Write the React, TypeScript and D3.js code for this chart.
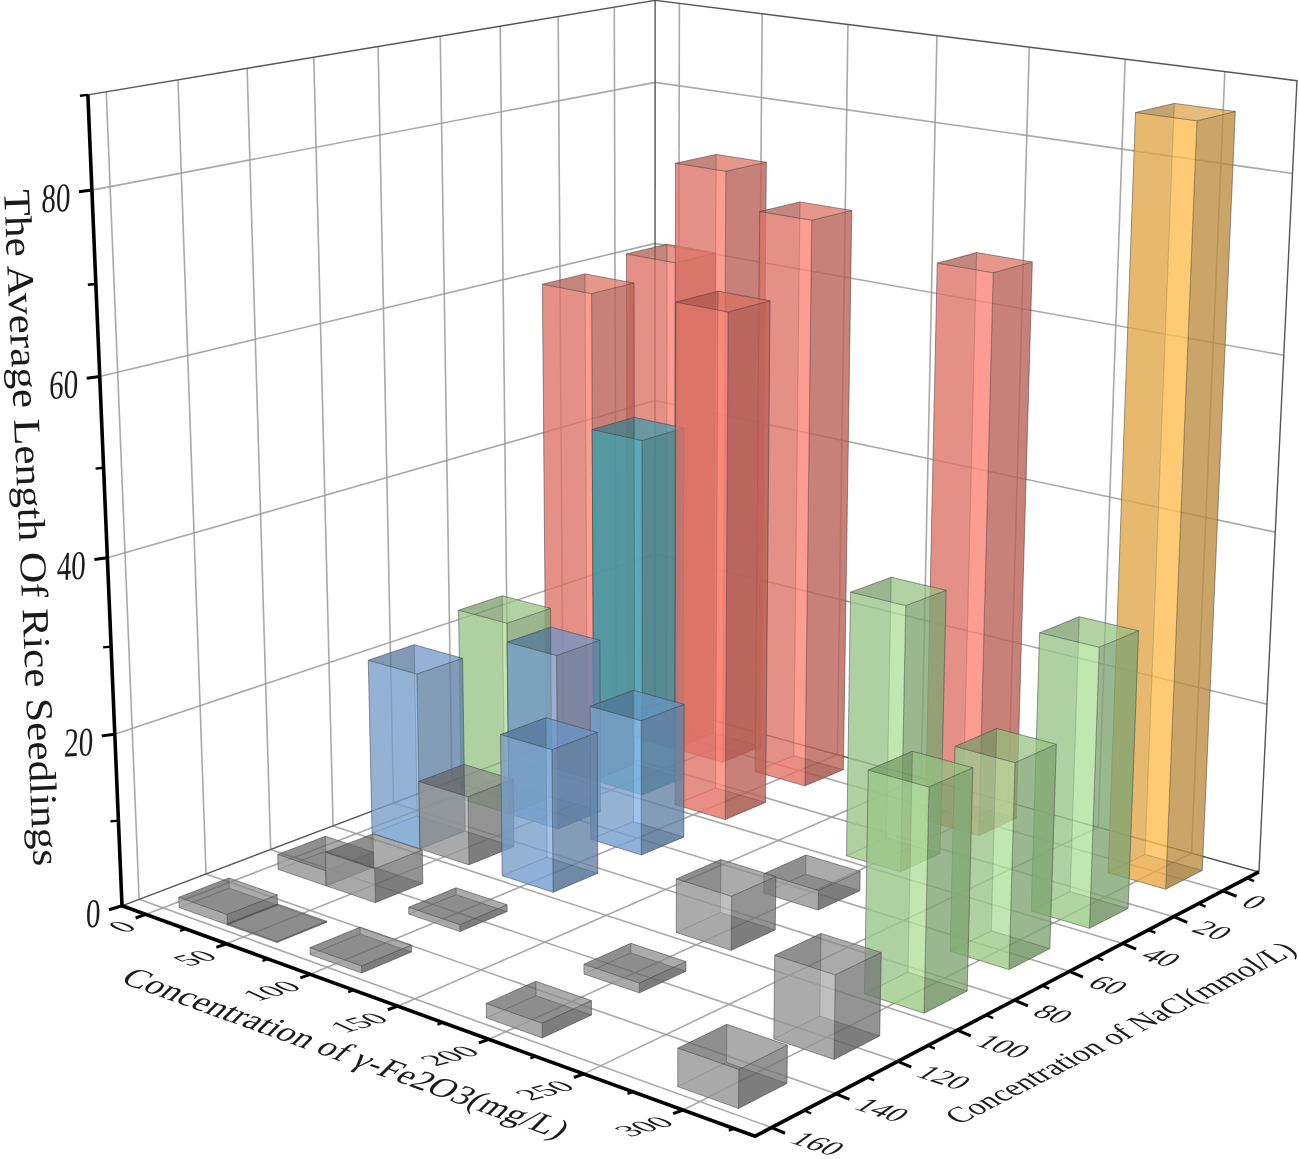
import React from "react";
import * as d3 from "d3";

const xDomain = [-15, 335];
const yDomain = [-15, 165];
const zDomain = [0, 90];

const xLevels = [20, 50, 100, 200, 300];
const yLevels = [0, 30, 60, 90, 120, 150];
const valuesAt20 = [61.2, 60, 23.5, 21.1, 1.8, 1.2];
const valuesAt50 = [73.2, 43.7, 21.2, 8.2, 4, 0.12];
const valuesAt100 = [69.1, 60.9, 16.2, 16.8, 0.8, 0.8];
const valuesAt200 = [66.6, 31.5, 2.3, 6.2, 1.1, 1.6];
const valuesAt300 = [86.6, 32.1, 23.2, 24.7, 9.1, 4.1];
const rows = [valuesAt20, valuesAt50, valuesAt100, valuesAt200, valuesAt300];

const xBarWidth = 30;
const yBarWidth = 15;

const xMajor = [0, 50, 100, 150, 200, 250, 300];
const xMinor = [25, 75, 125, 175, 225, 275, 325];
const yMajor = [0, 20, 40, 60, 80, 100, 120, 140, 160];
const yMinor = [-10, 10, 30, 50, 70, 90, 110, 130, 150];
const zMajor = [0, 20, 40, 60, 80];
const zMinor = [10, 30, 50, 70, 90];

const xTitle = "Concentration of \u03b3-Fe2O3(mg/L)";
const yTitle = "Concentration of NaCl(mmol/L)";
const zTitle = "The Average Length Of Rice Seedlings";

// colour bands: light face colour per value band
const bandBreaks = [10, 21.6, 35, 50, 80];
const bandLight = ["#aeaeae", "#88b5e5", "#b0e09c", "#3cb0c0", "#fc8377", "#febe50"];
const bandDark = ["#5f5f5f", "#526d89", "#6a8a5e", "#2f7480", "#9b5248", "#a0763e"];
const bandTop = ["#6a6a6a", "#4f7aa8", "#7ea56a", "#3b8a98", "#bc5b4d", "#c08a3c"];
const bandIndex = d3.scaleThreshold<number, number>().domain(bandBreaks).range([0, 1, 2, 3, 4, 5]);

const W = 1299;
const H = 1159;

const u = d3.scaleLinear().domain(xDomain).range([0, 1]);
const v = d3.scaleLinear().domain(yDomain).range([1, 0]);
const n = d3.scaleLinear().domain(zDomain).range([0, 1]);

// camera fit from the cube's visible corners: [u, v, n, screenX, screenY]
const cameraFit = [
  [0, 0, 0, 122, 905],
  [1, 0, 0, 755, 1137],
  [1, 1, 0, 1259, 871],
  [0, 1, 0, 655, 705],
  [0, 0, 1, 88, 95],
  [0, 1, 1, 655, 0],
  [1, 1, 1, 1297, 81],
];

function solve(A: number[][], b: number[]) {
  const m = A.map((r, i) => [...r, b[i]]);
  const N = b.length;
  for (let i = 0; i < N; i++) {
    let p = i;
    for (let k = i + 1; k < N; k++) if (Math.abs(m[k][i]) > Math.abs(m[p][i])) p = k;
    [m[i], m[p]] = [m[p], m[i]];
    for (let k = i + 1; k < N; k++) {
      const f = m[k][i] / m[i][i];
      for (let j = i; j <= N; j++) m[k][j] -= f * m[i][j];
    }
  }
  const out = new Array(N).fill(0);
  for (let i = N - 1; i >= 0; i--) {
    let s = m[i][N];
    for (let j = i + 1; j < N; j++) s -= m[i][j] * out[j];
    out[i] = s / m[i][i];
  }
  return out;
}

function fitCamera() {
  const rowsA: number[][] = [];
  const rhs: number[] = [];
  for (const [a, b, c, sx0, sy0] of cameraFit) {
    const sx = sx0 / 1000;
    const sy = sy0 / 1000;
    rowsA.push([a, b, c, 1, 0, 0, 0, 0, -sx * a, -sx * b, -sx * c]);
    rhs.push(sx);
    rowsA.push([0, 0, 0, 0, a, b, c, 1, -sy * a, -sy * b, -sy * c]);
    rhs.push(sy);
  }
  const K = 11;
  const ata = d3.range(K).map((i) => d3.range(K).map((j) => d3.sum(rowsA, (r) => r[i] * r[j])));
  const atb = d3.range(K).map((i) => d3.sum(rowsA, (r, k) => r[i] * rhs[k]));
  return solve(ata, atb);
}
const P = fitCamera();

function depth(x: number, y: number, z: number) {
  return P[8] * u(x) + P[9] * v(y) + P[10] * n(z) + 1;
}
function proj(x: number, y: number, z: number): [number, number] {
  const a = u(x), b = v(y), c = n(z);
  const w = P[8] * a + P[9] * b + P[10] * c + 1;
  return [
    (1000 * (P[0] * a + P[1] * b + P[2] * c + P[3])) / w,
    (1000 * (P[4] * a + P[5] * b + P[6] * c + P[7])) / w,
  ];
}
const line = d3.line();
const closed = (pts: [number, number][]) => line(pts) + "Z";

const [x0, x1] = xDomain;
const [y0, y1] = yDomain;
const [z0, z1] = zDomain;

type Bar = { x: number; y: number; z: number; band: number; w: number };
const bars: Bar[] = [];
xLevels.forEach((x, i) =>
  yLevels.forEach((y, j) => {
    const z = rows[i][j];
    bars.push({ x, y, z, band: bandIndex(z), w: depth(x, y, 0) });
  })
);
bars.sort((a, b) => b.w - a.w);

const FACE_ALPHA = 0.55;

function BarBox({ b }: { b: Bar }) {
  const xa = b.x - xBarWidth / 2, xb = b.x + xBarWidth / 2;
  const ya = b.y - yBarWidth / 2, yb = b.y + yBarWidth / 2;
  const L = bandLight[b.band], D = bandDark[b.band], T = bandTop[b.band];
  const quad = (pts: [number, number, number][]) => closed(pts.map((p) => proj(p[0], p[1], p[2])));
  const bottom = quad([[xa, ya, 0], [xb, ya, 0], [xb, yb, 0], [xa, yb, 0]]);
  const xMinFace = quad([[xa, ya, 0], [xa, yb, 0], [xa, yb, b.z], [xa, ya, b.z]]);
  const yMinFace = quad([[xa, ya, 0], [xb, ya, 0], [xb, ya, b.z], [xa, ya, b.z]]);
  const xMaxFace = quad([[xb, ya, 0], [xb, yb, 0], [xb, yb, b.z], [xb, ya, b.z]]);
  const yMaxFace = quad([[xa, yb, 0], [xb, yb, 0], [xb, yb, b.z], [xa, yb, b.z]]);
  const top = quad([[xa, ya, b.z], [xb, ya, b.z], [xb, yb, b.z], [xa, yb, b.z]]);
  const stroke = { stroke: "#3c3c3c", strokeOpacity: 0.3, strokeWidth: 1, strokeLinejoin: "round" as const };
  return (
    <g>
      <path d={bottom} fill={T} fillOpacity={0.62} {...stroke} />
      <path d={xMinFace} fill={D} fillOpacity={FACE_ALPHA} {...stroke} />
      <path d={yMinFace} fill={L} fillOpacity={FACE_ALPHA} {...stroke} />
      <path d={xMaxFace} fill={D} fillOpacity={FACE_ALPHA} {...stroke} />
      <path d={yMaxFace} fill={L} fillOpacity={FACE_ALPHA} {...stroke} />
      <path d={top} fill={T} fillOpacity={0.38} {...stroke} />
    </g>
  );
}

const seg = (a: [number, number], b: [number, number]) => line([a, b]) as string;
const off = (p: [number, number], dx: number, dy: number): [number, number] => [p[0] + dx, p[1] + dy];

const serif = "'Liberation Serif','Times New Roman',serif";

export default function App() {
  const grid: string[] = [];
  yMajor.forEach((y) => {
    grid.push(line([proj(x0, y, z0), proj(x0, y, z1)]) as string);
    grid.push(line([proj(x0, y, 0), proj(x1, y, 0)]) as string);
  });
  xMajor.forEach((x) => {
    grid.push(line([proj(x, y0, z0), proj(x, y0, z1)]) as string);
    grid.push(line([proj(x, y0, 0), proj(x, y1, 0)]) as string);
  });
  zMajor.filter((z) => z > 0).forEach((z) => {
    grid.push(line([proj(x0, y1, z), proj(x0, y0, z), proj(x1, y0, z)]) as string);
  });
  const frame = [
    line([proj(x0, y1, z1), proj(x0, y0, z1), proj(x1, y0, z1), proj(x1, y0, z0)]) as string,
    line([proj(x0, y0, z1), proj(x0, y0, z0)]) as string,
    line([proj(x0, y1, z0), proj(x0, y0, z0), proj(x1, y0, z0)]) as string,
  ];
  const axes = [
    line([proj(x0, y1, z1), proj(x0, y1, z0), proj(x1, y1, z0), proj(x1, y0, z0)]) as string,
  ];
  return (
    <svg
      width={W}
      height={H}
      viewBox={`0 0 ${W} ${H}`}
      style={{ position: "absolute", left: 0, top: 0, display: "block", background: "#fff", filter: "blur(0.5px)" }}
    >
      <g fill="none" stroke="#9a9a9a" strokeOpacity={0.85} strokeWidth={1.6}>
        {grid.map((d, i) => (
          <path key={i} d={d} />
        ))}
      </g>
      <g fill="none" stroke="#555" strokeWidth={1.4}>
        {frame.map((d, i) => (
          <path key={i} d={d} />
        ))}
      </g>
      {bars.map((b, i) => (
        <BarBox key={i} b={b} />
      ))}
      <g fill="none" stroke="#000" strokeWidth={3.6} strokeLinejoin="miter">
        {axes.map((d, i) => (
          <path key={i} d={d} />
        ))}
      </g>
      <g stroke="#000" fill="none">
        {xMajor.map((x) => {
          const p = proj(x, y1, 0);
          return <path key={x} d={seg(p, off(p, -10, 3.6))} strokeWidth={3} />;
        })}
        {xMinor.map((x) => {
          const p = proj(x, y1, 0);
          return <path key={x} d={seg(p, off(p, -5.5, 2))} strokeWidth={2.4} />;
        })}
        {yMajor.map((y) => {
          const p = proj(x1, y, 0);
          return <path key={y} d={seg(p, off(p, 13.5, 5.7))} strokeWidth={3} />;
        })}
        {yMinor.map((y) => {
          const p = proj(x1, y, 0);
          return <path key={y} d={seg(p, off(p, 7, 3))} strokeWidth={2.4} />;
        })}
        {zMajor.map((z) => {
          const p = proj(x0, y1, z);
          return <path key={z} d={seg(p, off(p, -13, z === 0 ? 4 : 1.7))} strokeWidth={3} />;
        })}
        {zMinor.map((z) => {
          const p = proj(x0, y1, z);
          return <path key={z} d={seg(p, off(p, -8, 0.8))} strokeWidth={2.4} />;
        })}
      </g>
      <g fontFamily={serif} fill="#1a1a1a">
        {xMajor.map((x) => {
          const p = proj(x, y1, 0);
          const e = off(p, -16, 10);
          return (
            <text
              key={x}
              textAnchor="end"
              fontSize={1}
              transform={`matrix(${0.96 * 32} ${-0.27 * 32} ${0.9 * 30} ${0.42 * 30} ${e[0]} ${e[1]})`}
              dy="0.33"
            >
              {x}
            </text>
          );
        })}
        {yMajor.map((y) => {
          const p = proj(x1, y, 0);
          const e = off(p, 24, 9);
          return (
            <text
              key={y}
              textAnchor="start"
              fontSize={1}
              transform={`matrix(${0.95 * 31} ${0.31 * 31} ${-0.78 * 30} ${0.55 * 30} ${e[0]} ${e[1]})`}
              dy="0.33"
            >
              {y}
            </text>
          );
        })}
        {zMajor.map((z) => {
          const p = proj(x0, y1, z);
          const e = off(p, -22, 21);
          return (
            <text key={z} textAnchor="end" fontSize={1} transform={`matrix(29 -1.5 -1.5 41 ${e[0]} ${e[1]})`}>
              {z}
            </text>
          );
        })}
        <text
          fontSize={1}
          textLength={16.5}
          lengthAdjust="spacingAndGlyphs"
          transform="matrix(1.8 41 -38 1.3 4 190)"
        >
          {zTitle}
        </text>
        <text
          fontSize={1}
          textLength={13.1}
          lengthAdjust="spacingAndGlyphs"
          transform="matrix(33.5 12 -23 23 119 982)"
        >
          {xTitle}
        </text>
        <text
          fontSize={1}
          textLength={13}
          lengthAdjust="spacingAndGlyphs"
          transform="matrix(26.1 -13.3 25 17 959 1125)"
        >
          {yTitle}
        </text>
      </g>
    </svg>
  );
}
